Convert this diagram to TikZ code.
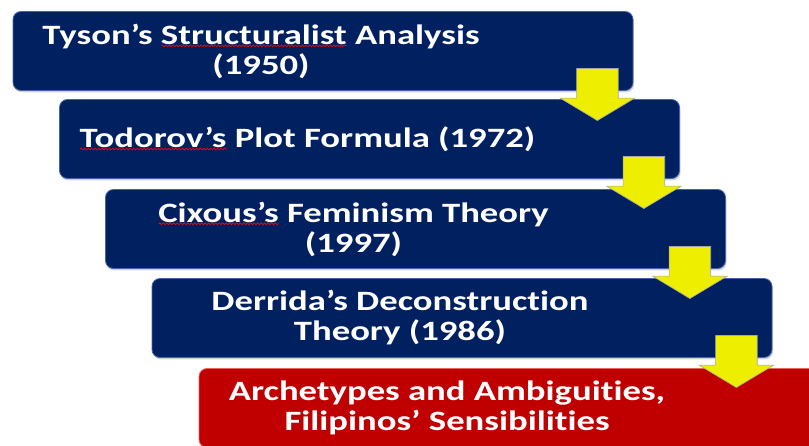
\documentclass[tikz,border=0pt]{standalone}
\usepackage{fontspec}
\setmainfont{Carlito}[FakeStretch=1.31, Ligatures=NoCommon]
\usetikzlibrary{shapes,arrows,positioning,calc,shadows,decorations.pathmorphing}

\definecolor{stagenavy}{RGB}{0,32,96}
\definecolor{stageedge}{RGB}{70,100,170}
\definecolor{finalred}{RGB}{192,0,0}
\definecolor{finaledge}{RGB}{235,100,100}
\definecolor{arrowyellow}{RGB}{238,238,0}

\newlength{\spellwd}
\newcommand{\spellmark}[1]{\leavevmode\settowidth{\spellwd}{#1}%
  \rlap{\raisebox{-3pt}[0pt][0pt]{\tikz[x=1pt,y=1pt]\draw[red, line width=0.7pt, sharp corners,
    decorate, decoration={snake, amplitude=0.9pt, segment length=3.5pt}] (0,0) -- (\spellwd,0);}}#1}
\newcommand{\stagetext}[1]{\makebox[620pt][l]{\parbox{496pt}{\centering #1}}}

\tikzset{
  stage/.style={rectangle, rounded corners=8pt, minimum width=620pt, minimum height=79pt,
    fill=stagenavy, draw=stageedge, line width=0.8pt, text=white,
    font=\bfseries\fontsize{28}{30}\selectfont, inner xsep=0pt, inner ysep=4pt,
    drop shadow={opacity=0.35, shadow xshift=1pt, shadow yshift=-2pt}},
  finalstage/.style={stage, fill=finalred, draw=finaledge},
  downarrow/.style={single arrow, rotate=-90, anchor=tip, fill=arrowyellow, draw=gray!70,
    line width=0.6pt, minimum height=52pt, inner xsep=0pt, inner ysep=20.5pt,
    single arrow head extend=16.5pt, single arrow tip angle=118}
}

\begin{document}
\begin{tikzpicture}[x=1pt, y=-1pt]
  \useasboundingbox (0,0) rectangle (809,446);

  \node[stage] (tyson) at (323,51) {\stagetext{Tyson’s \spellmark{Structuralist} Analysis\\(1950)}};
  \node[stage] (todorov) at (369.5,139) {\stagetext{\spellmark{Todorov’s} Plot Formula (1972)}};
  \node[stage] (cixous) at (415.5,229) {\stagetext{\spellmark{Cixous’s} Feminism Theory\\(1997)}};
  \node[stage] (derrida) at (462,318) {\stagetext{Derrida’s Deconstruction\\Theory (1986)}};
  \node[finalstage] (archetypes) at (509,408) {\stagetext{Archetypes and Ambiguities,\\Filipinos’ Sensibilities}};

  % yellow arrows between the stages
  \node[downarrow] (step1) at ($(tyson.south east)+(-36,30)$) {};
  \node[downarrow] (step2) at ($(todorov.south east)+(-36,30)$) {};
  \node[downarrow] (step3) at ($(cixous.south east)+(-36,30)$) {};
  \node[downarrow] (step4) at ($(derrida.south east)+(-36,30)$) {};
\end{tikzpicture}
\end{document}
